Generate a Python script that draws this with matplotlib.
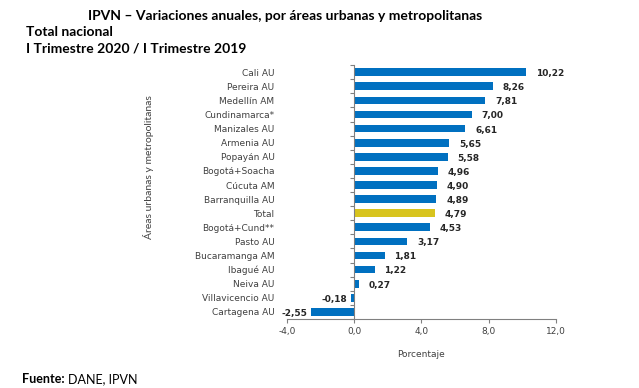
import matplotlib.pyplot as plt
import numpy as np

# datos
areas = ["Cali AU", "Pereira AU", "Medellín AM", "Cundinamarca*", "Manizales AU",
         "Armenia AU", "Popayán AU", "Bogotá+Soacha", "Cúcuta AM", "Barranquilla AU",
         "Total", "Bogotá+Cund**", "Pasto AU", "Bucaramanga AM", "Ibagué AU",
         "Neiva AU", "Villavicencio AU", "Cartagena AU"]
variacion = [10.22, 8.26, 7.81, 7.00, 6.61, 5.65, 5.58, 4.96, 4.90, 4.89,
             4.79, 4.53, 3.17, 1.81, 1.22, 0.27, -0.18, -2.55]
xticks = [-4.0, 0.0, 4.0, 8.0, 12.0]

azul = "#0070C0"
amarillo = "#D8C41E"
gris = "#808080"

fig = plt.figure(figsize=(6.39, 3.88), dpi=100)
ax = fig.add_axes([0.449, 0.178, 0.421, 0.654])

pos = np.arange(len(areas))
colores = [amarillo if a == "Total" else azul for a in areas]
ax.barh(pos, variacion, height=0.55, color=colores, zorder=2)

ax.set_ylim(len(areas) - 0.5, -0.5)
ax.set_xlim(xticks[0], xticks[-1])
ax.set_xticks(xticks)
ax.set_xticklabels([f"{t:.1f}".replace(".", ",") for t in xticks],
                   fontsize=6.5, color="#404040")
ax.set_yticks(pos)
ax.set_yticklabels(areas, fontsize=6.5, color="#404040")
ax.tick_params(axis="y", length=0, pad=9)
ax.tick_params(axis="x", length=3, color=gris, pad=3)

for s in ["top", "right", "left"]:
    ax.spines[s].set_visible(False)
ax.spines["bottom"].set_color(gris)
ax.spines["bottom"].set_linewidth(0.8)

# eje vertical en cero con marcas entre categorias
ax2 = ax.twinx()
ax2.set_ylim(ax.get_ylim())
for s in ["top", "right", "bottom"]:
    ax2.spines[s].set_visible(False)
ax2.spines["left"].set_position(("data", 0))
ax2.spines["left"].set_color(gris)
ax2.spines["left"].set_linewidth(0.8)
ax2.yaxis.set_ticks_position("left")
ax2.set_yticks(np.arange(len(areas) + 1) - 0.5)
ax2.set_yticklabels([])
ax2.tick_params(axis="y", length=3, color=gris)

# etiquetas de valor
for p, v in zip(pos, variacion):
    txt = f"{v:.2f}".replace(".", ",")
    if v >= 0:
        ax.annotate(txt, (v, p), xytext=(7, -1), textcoords="offset points",
                    ha="left", va="center", fontsize=6.5, fontweight="bold",
                    color="#262626")
    else:
        ax.annotate(txt, (v, p), xytext=(-3, -1), textcoords="offset points",
                    ha="right", va="center", fontsize=6.5, fontweight="bold",
                    color="#262626")

ax.set_xlabel("Porcentaje", fontsize=6.5, color="#404040", labelpad=10)

fig.text(0.232, 0.57, "Áreas urbanas y metropolitanas", rotation=90,
         fontsize=7.5, family="Lato", color="#404040", ha="center", va="center")

fig.text(0.138, 0.958, "IPVN – Variaciones anuales, por áreas urbanas y metropolitanas",
         fontsize=10, fontweight="bold", family="Lato", va="center")
fig.text(0.041, 0.917, "Total nacional", fontsize=10, fontweight="bold",
         family="Lato", va="center")
fig.text(0.041, 0.876, "I Trimestre 2020 / I Trimestre 2019", fontsize=10,
         fontweight="bold", family="Lato", va="center")

fig.text(0.034, 0.022, "Fuente:", fontsize=9, fontweight="bold",
         family="Lato", va="center")
fig.text(0.034 + 0.073, 0.022, "DANE, IPVN", fontsize=9, family="Lato", va="center")

plt.savefig("out.png", dpi=100)
